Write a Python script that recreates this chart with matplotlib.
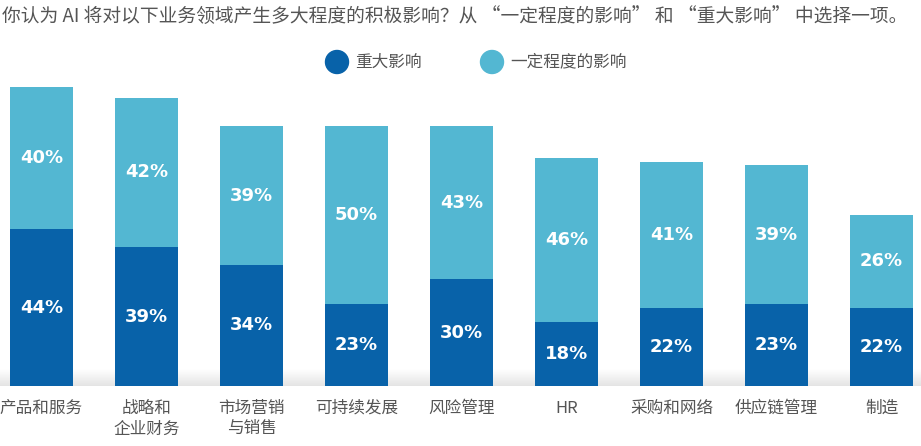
import matplotlib
matplotlib.use("Agg")
import matplotlib.pyplot as plt
import numpy as np

plt.rcParams['font.family'] = ['Noto Sans CJK SC', 'DejaVu Sans']

categories = ["产品和服务", "战略和\n企业财务", "市场营销\n与销售", "可持续发展", "风险管理",
              "HR", "采购和网络", "供应链管理", "制造"]
major = [44, 39, 34, 23, 30, 18, 22, 23, 22]
some = [40, 42, 39, 50, 43, 46, 41, 39, 26]
series_names = ["重大影响", "一定程度的影响"]
title = "你认为 AI 将对以下业务领域产生多大程度的积极影响？从 “一定程度的影响” 和 “重大影响” 中选择一项。"

dark = "#0862A9"
light = "#53B7D2"
textgray = "#555555"

W, H = 921, 446
fig = plt.figure(figsize=(W / 100, H / 100), dpi=100)

px_per_pct = 3.56
bottom_px = 386
top_px = 70
ax = fig.add_axes([0, (H - bottom_px) / H, 1, (bottom_px - top_px) / H])
x0 = 41.5
step = 105.0
ax.set_xlim(-x0 / step, (W - x0) / step)
ax.set_ylim(0, (bottom_px - top_px) / px_per_pct)
ax.axis("off")

# subtle gray gradient band at the bottom
grad = np.linspace(0, 1, 50).reshape(-1, 1)
ax.imshow(grad, aspect="auto", cmap=matplotlib.colors.LinearSegmentedColormap.from_list(
    "g", ["#e4e4e4", "#ffffff"]), extent=(ax.get_xlim()[0], ax.get_xlim()[1], 0, 4.6),
    origin="lower", zorder=0)

x = np.arange(len(categories))
ax.bar(x, major, width=0.6, color=dark, zorder=2)
ax.bar(x, some, width=0.6, bottom=major, color=light, zorder=2)

for i in range(len(categories)):
    ax.text(x[i], major[i] / 2, f"{major[i]}%", ha="center", va="center",
            color="white", fontsize=13, fontweight="bold", family="DejaVu Sans", zorder=3)
    ax.text(x[i], major[i] + some[i] / 2, f"{some[i]}%", ha="center", va="center",
            color="white", fontsize=13, fontweight="bold", family="DejaVu Sans", zorder=3)
    ax.text(x[i], -3.8, categories[i], ha="center", va="top", color=textgray,
            fontsize=12, linespacing=1.3, transform=ax.transData, clip_on=False)

fig.text(2 / W, 1 - 17 / H, title, ha="left", va="center", color=textgray, fontsize=13.5)

# legend
for cx, col, name in [(337, dark, series_names[0]), (492, light, series_names[1])]:
    fig.patches.append(matplotlib.patches.Ellipse((cx / W, 1 - 62 / H), 23 / W, 23 / H,
                                                  transform=fig.transFigure, color=col))
    fig.text((cx + 18) / W, 1 - 62 / H, name, ha="left", va="center", color=textgray, fontsize=12)

fig.savefig("out.png", dpi=100)
